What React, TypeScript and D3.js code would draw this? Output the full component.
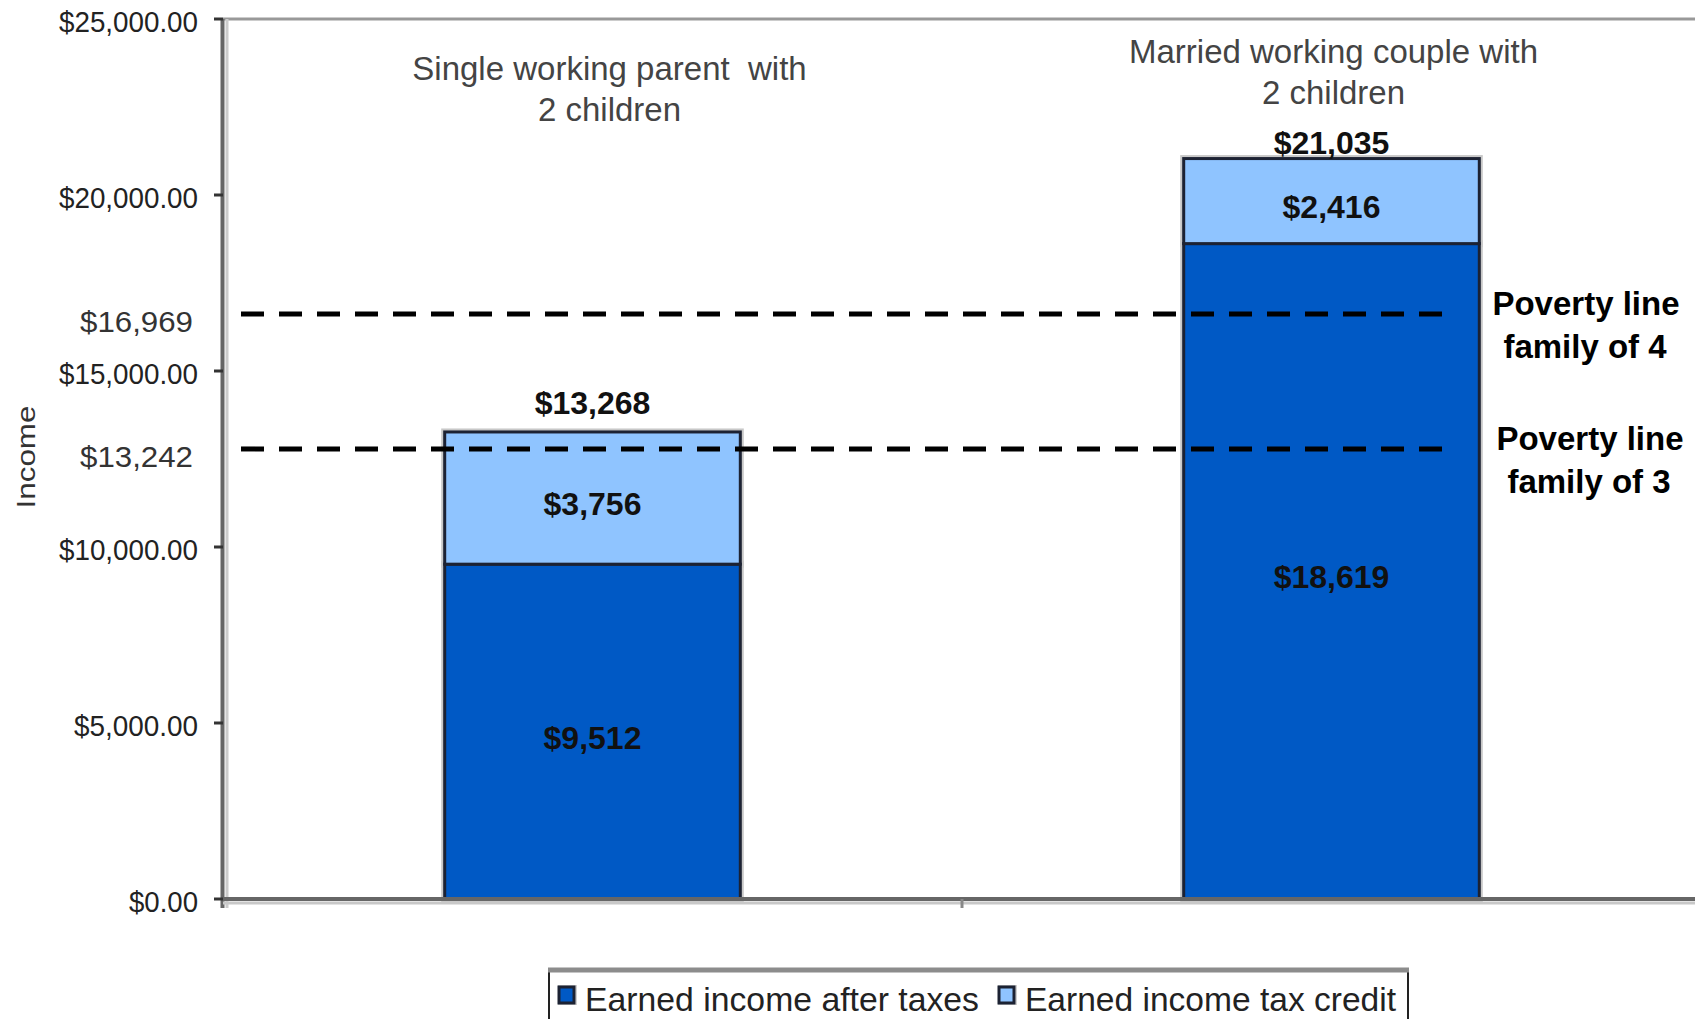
import React from 'react'
import * as d3 from 'd3'

// values
const categories = ['single', 'married']
const categoryLines = [
  ['Single working parent  with', '2 children'],
  ['Married working couple with', '2 children'],
]
const afterTaxes = [9512, 18619]
const taxCredit = [3756, 2416]
const seriesNames = ['Earned income after taxes', 'Earned income tax credit']
const yTicks = [0, 5000, 10000, 15000, 20000, 25000]

// poverty lines: label text and the level where the dashed line sits in the picture
const povertyLabels = ['$16,969', '$13,242']
const povertyFamilies = ['family of 4', 'family of 3']
const povertyDrawnAt = [16620, 12785]

const W = 1695
const H = 1019
const margin = { left: 223, top: 19, bottom: 120 }
const FONT = "'Liberation Sans', Arial, Helvetica, sans-serif"
const DARK = '#0059c5'
const LIGHT = '#8fc4ff'

const App = () => {
  const y = d3
    .scaleLinear()
    .domain([0, 25000])
    .range([H - margin.bottom, margin.top])

  const x = d3
    .scaleBand()
    .domain(categories)
    .range([margin.left, 1701])
    .padding(0)

  const barW = x.bandwidth() * 0.4
  const cx = (c) => x(c) + x.bandwidth() / 2

  const table = categories.map((c, i) => ({
    cat: c,
    after: afterTaxes[i],
    credit: taxCredit[i],
  }))
  const stacked = d3.stack().keys(['after', 'credit'])(table)
  const fills = [DARK, LIGHT]
  const money = d3.format('$,')
  const tickFmt = d3.format('$,.2f')

  const y0 = y(0)
  const totalGap = [29, 16]
  const catShift = [17, 2]
  const catTop = [68, 51]
  const tickWidth = { 0: 69, 5000: 124 }

  return (
    <div style={{ position: 'absolute', left: 0, top: 0 }}>
      <svg width={W} height={H} style={{ display: 'block', background: '#fff' }}>
        {/* plot frame */}
        <line x1={margin.left} x2={W} y1={margin.top} y2={margin.top} stroke="#999" strokeWidth={3} />

        {/* bar shadows */}
        {stacked.map((s, si) =>
          s.map((d, i) => (
            <rect
              key={`s-${si}-${i}`}
              x={cx(categories[i]) - barW / 2}
              y={y(d[1])}
              width={barW}
              height={y(d[0]) - y(d[1])}
              fill="none"
              stroke="#c8c8c8"
              strokeWidth={7}
            />
          ))
        )}
        {/* bars */}
        {stacked.map((s, si) =>
          s.map((d, i) => (
            <rect
              key={`b-${si}-${i}`}
              x={cx(categories[i]) - barW / 2}
              y={y(d[1])}
              width={barW}
              height={y(d[0]) - y(d[1])}
              fill={fills[si]}
              stroke="#1c2233"
              strokeWidth={3}
            />
          ))
        )}

        {/* segment labels */}
        {stacked.map((s, si) =>
          s.map((d, i) => (
            <text
              key={`l-${si}-${i}`}
              x={cx(categories[i])}
              y={(y(d[0]) + y(d[1])) / 2 + 6}
              textAnchor="middle"
              dominantBaseline="central"
              fontFamily={FONT}
              fontWeight="bold"
              fontSize={32}
              fill="#111"
            >
              {money(d[1] - d[0])}
            </text>
          ))
        )}

        {/* totals */}
        {table.map((d, i) => (
          <text
            key={`t-${i}`}
            x={cx(d.cat)}
            y={y(d.after + d.credit) - totalGap[i]}
            textAnchor="middle"
            dominantBaseline="central"
            fontFamily={FONT}
            fontWeight="bold"
            fontSize={32}
            fill="#111"
          >
            {money(d.after + d.credit)}
          </text>
        ))}

        {/* category labels */}
        {categories.map((c, i) =>
          categoryLines[i].map((line, li) => (
            <text
              key={`c-${i}-${li}`}
              x={cx(c) + catShift[i]}
              y={catTop[i] + li * 41}
              textAnchor="middle"
              dominantBaseline="central"
              fontFamily={FONT}
              fontSize={33}
              fill="#444"
              style={{ whiteSpace: 'pre' }}
            >
              {line}
            </text>
          ))
        )}

        {/* poverty lines */}
        {povertyDrawnAt.map((v, i) => (
          <g key={`p-${i}`}>
            <line
              x1={241}
              x2={i === 0 ? 1444 : 1454}
              y1={y(v)}
              y2={y(v)}
              stroke="#000"
              strokeWidth={5}
              strokeDasharray="23 15"
            />
            <text
              x={193}
              y={y(v) + 8}
              textAnchor="end"
              dominantBaseline="central"
              fontFamily={FONT}
              fontSize={29}
              fill="#333"
              textLength={113}
              lengthAdjust="spacingAndGlyphs"
            >
              {povertyLabels[i]}
            </text>
            <text
              x={1586 + i * 4}
              y={y(v) - 10}
              textAnchor="middle"
              dominantBaseline="central"
              fontFamily={FONT}
              fontWeight="bold"
              fontSize={33}
              fill="#000"
            >
              Poverty line
            </text>
            <text
              x={1585 + i * 4}
              y={y(v) + 33}
              textAnchor="middle"
              dominantBaseline="central"
              fontFamily={FONT}
              fontWeight="bold"
              fontSize={33}
              fill="#000"
            >
              {povertyFamilies[i]}
            </text>
          </g>
        ))}

        {/* y axis */}
        <line x1={227} x2={227} y1={margin.top} y2={y0 + 9} stroke="#ccc" strokeWidth={3} />
        <line x1={222.5} x2={222.5} y1={margin.top} y2={y0 + 9} stroke="#666" strokeWidth={4} />
        {yTicks.map((t) => (
          <g key={`yt-${t}`}>
            <line x1={214} x2={223} y1={y(t)} y2={y(t)} stroke="#333" strokeWidth={3} />
            <text
              x={198}
              y={y(t) + 3}
              textAnchor="end"
              dominantBaseline="central"
              fontFamily={FONT}
              fontSize={29}
              fill="#222"
              textLength={tickWidth[t] ?? 139}
              lengthAdjust="spacingAndGlyphs"
            >
              {tickFmt(t)}
            </text>
          </g>
        ))}

        {/* x axis */}
        <line x1={margin.left} x2={W} y1={y0 + 4} y2={y0 + 4} stroke="#c8c8c8" strokeWidth={3} />
        <line x1={margin.left} x2={W} y1={y0} y2={y0} stroke="#666" strokeWidth={4} />
        {x.domain().slice(1).map((c) => (
          <line key={`xt-${c}`} x1={x(c)} x2={x(c)} y1={y0} y2={y0 + 9} stroke="#888" strokeWidth={3} />
        ))}

        {/* y axis title */}
        <text
          transform={`translate(26,457) rotate(-90)`}
          textAnchor="middle"
          dominantBaseline="central"
          fontFamily={FONT}
          fontSize={25}
          fill="#333"
          textLength={103}
          lengthAdjust="spacingAndGlyphs"
        >
          Income
        </text>

        {/* legend */}
        <rect x={549} y={970} width={859} height={70} fill="#fff" stroke="#222" strokeWidth={2} />
        <line x1={548} x2={1409} y1={970} y2={970} stroke="#8c8c8c" strokeWidth={5} />
        {seriesNames.map((name, i) => {
          const sx = i === 0 ? 559 : 999
          return (
            <g key={`lg-${i}`}>
              <rect x={sx - 1} y={985} width={19} height={20} fill="#d0d0d0" />
              <rect x={sx} y={987} width={15} height={16} fill={fills[i]} stroke="#1c2233" strokeWidth={3} />
              <text
                x={sx + 26}
                y={1011}
                fontFamily={FONT}
                fontSize={33}
                fill="#222"
                textLength={i === 0 ? 394 : 371}
                lengthAdjust="spacingAndGlyphs"
              >
                {name}
              </text>
            </g>
          )
        })}
      </svg>
    </div>
  )
}

export default App
